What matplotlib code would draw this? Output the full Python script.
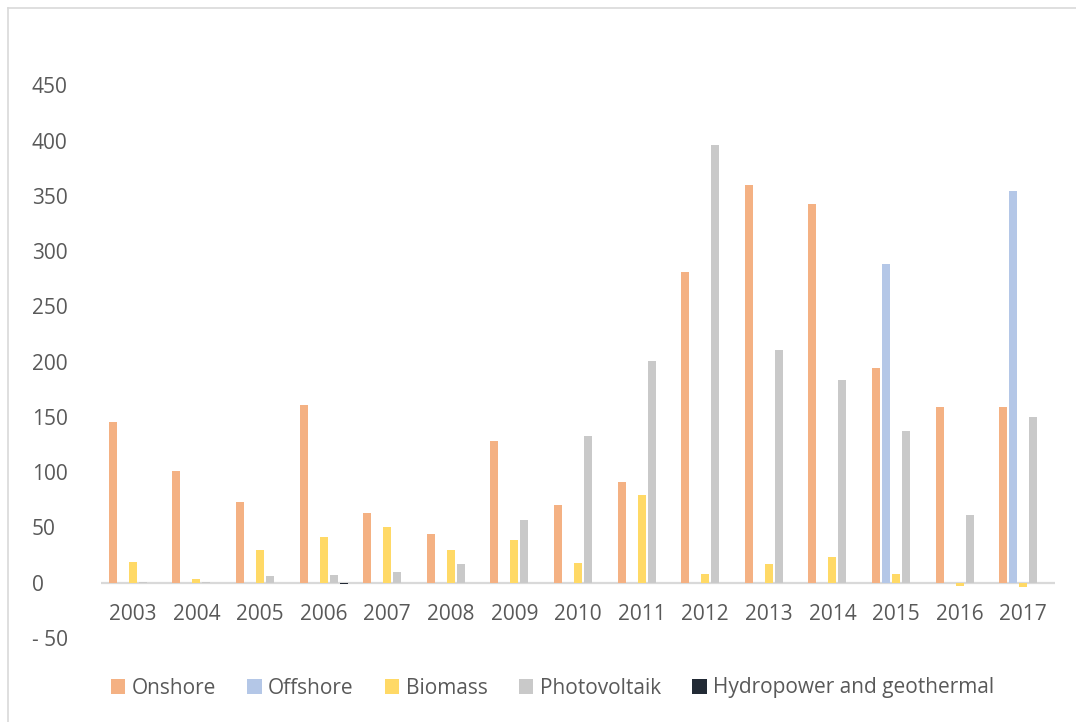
import matplotlib
matplotlib.use("Agg")
import matplotlib.pyplot as plt
from matplotlib.patches import Patch
from matplotlib.lines import Line2D
import numpy as np

years = ["2003", "2004", "2005", "2006", "2007", "2008", "2009", "2010",
         "2011", "2012", "2013", "2014", "2015", "2016", "2017"]
onshore = [145, 101, 73, 161, 63, 44, 128, 70, 91, 281, 360, 343, 194, 159, 159]
offshore = [0, 0, 0, 0, 0, 0, 0, 0, 0, 0, 0, 0, 288, 0, 354]
biomass = [19, 3, 30, 41, 50, 30, 39, 18, 79, 8, 17, 23, 8, -3, -4]
photovoltaik = [0.5, 1, 6, 7, 10, 17, 57, 133, 201, 396, 211, 183, 137, 61, 150]
hydro_geo = [0.2, 0.2, 0, -1.5, 0.2, 0, 0, 0, 0, 0, 0, 0, 0, 0, 0]

series_names = ["Onshore", "Offshore", "Biomass", "Photovoltaik",
                "Hydropower and geothermal"]
series_values = [onshore, offshore, biomass, photovoltaik, hydro_geo]
colors = ["#F4B183", "#B4C7E7", "#FFD966", "#C9C9C9", "#222A35"]

y_ticks = [-50, 0, 50, 100, 150, 200, 250, 300, 350, 400, 450]

plt.rcParams["font.family"] = ["Open Sans", "DejaVu Sans"]
text_color = "#595959"
fs = 15

fig = plt.figure(figsize=(10.76, 7.22), dpi=100)
ax = fig.add_axes([0.0939, 0.1163, 0.8866, 0.8420])

x = np.arange(len(years))
slot = 0.157
width = 0.126
for i, (name, vals, c) in enumerate(zip(series_names, series_values, colors)):
    ax.bar(x + (i - 2) * slot, vals, width=width, color=c, label=name,
           linewidth=0)

ax.set_xlim(-0.5, len(years) - 0.5)
ax.set_ylim(-50, 500)
ax.set_yticks(y_ticks)
ax.set_yticklabels([f"- {abs(v)}" if v < 0 else str(v) for v in y_ticks])
ax.tick_params(axis="y", length=0, labelsize=fs, labelcolor=text_color, pad=50)
for lbl in ax.get_yticklabels():
    lbl.set_horizontalalignment("left")

ax.set_xticks([])
for xi, yr in zip(x, years):
    ax.text(xi, -29, yr, ha="center", va="center", fontsize=fs,
            color=text_color)

for s in ax.spines.values():
    s.set_visible(False)
ax.axhline(0, color="#D9D9D9", linewidth=1.6, zorder=0.5)

# outer chart frame
fig.add_artist(Line2D([8 / 1076, 8 / 1076], [0, 1 - 8 / 722],
                      transform=fig.transFigure, color="#D9D9D9", linewidth=1.2))
fig.add_artist(Line2D([8 / 1076, 1], [1 - 8 / 722, 1 - 8 / 722],
                      transform=fig.transFigure, color="#D9D9D9", linewidth=1.2))

handles = [Patch(facecolor=c, edgecolor="none") for c in colors]
leg = fig.legend(handles, series_names, loc="center left",
                 bbox_to_anchor=(92 / 1076, 1 - 688 / 722), ncol=5,
                 frameon=False, fontsize=fs, handlelength=0.7,
                 handleheight=0.7, handletextpad=0.3, columnspacing=1.5,
                 labelcolor=text_color)

fig.savefig("out.png", dpi=100)
